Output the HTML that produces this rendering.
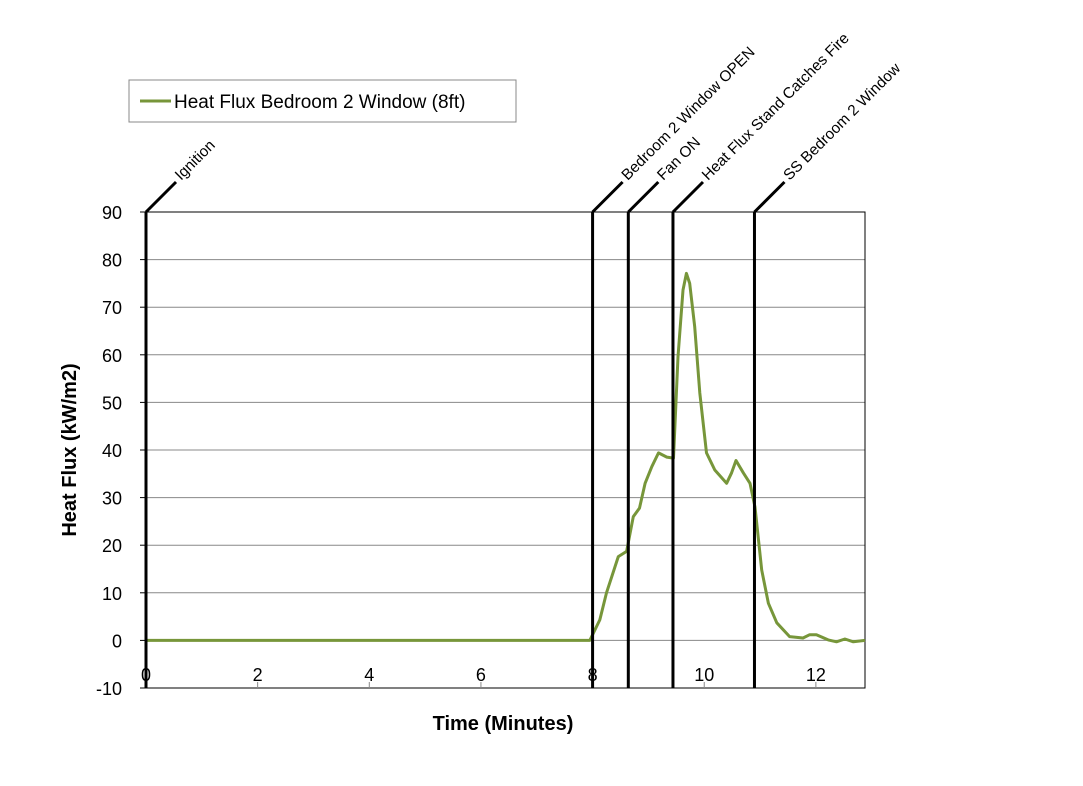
<!DOCTYPE html>
<html><head><meta charset="utf-8"><style>
body{margin:0;background:#fff}
svg{display:block;font-family:"Liberation Sans",sans-serif}
</style></head><body>
<svg id="chart" width="1083" height="786" viewBox="0 0 1083 786" xmlns="http://www.w3.org/2000/svg"></svg>
<script>
const times=[0,1,2,3,4,5,6,7,7.95,8.13,8.25,8.46,8.61,8.73,8.84,8.94,9.06,9.18,9.33,9.45,9.53,9.62,9.68,9.74,9.83,9.92,10.04,10.19,10.4,10.49,10.57,10.7,10.82,10.91,11.03,11.15,11.3,11.53,11.77,11.89,12.01,12.22,12.37,12.52,12.67,12.88];
const flux=[0,0,0,0,0,0,0,0,0,4.3,10,17.6,18.7,26,27.8,33,36.5,39.4,38.5,38.3,59.6,73.6,77.1,75,65.9,52,39.4,35.8,33,35.2,37.8,35.2,33,28,14.8,7.8,3.7,0.8,0.5,1.2,1.2,0.1,-0.3,0.3,-0.3,0];
const xTicks=[0,2,4,6,8,10,12];
const yTicks=[-10,0,10,20,30,40,50,60,70,80,90];
const eventTimes=[0,8,8.64,9.44,10.9];
const eventLabels=["Ignition","Bedroom  2 Window OPEN","Fan ON","Heat Flux Stand Catches Fire","SS Bedroom  2 Window"];
const X0=146,X1=865,Y0=212,Y1=688,XMAX=12.88;
const sx=t=>X0+(t/XMAX)*(X1-X0);
const sy=v=>Y1-(v+10)/100*(Y1-Y0);
const svg=document.getElementById('chart');
const NS='http://www.w3.org/2000/svg';
function mk(tag,attrs,parent){const e=document.createElementNS(NS,tag);for(const k in attrs)e.setAttribute(k,attrs[k]);(parent||svg).appendChild(e);return e;}
yTicks.forEach(v=>{
  const g=mk('line',{x1:X0,x2:X1,y1:sy(v),y2:sy(v),stroke:v===-10||v===90?'#000':'#888','stroke-width':1});
  
  
  const tk=mk('line',{x1:X0-6,x2:X0,y1:sy(v),y2:sy(v),stroke:'#000'});
  
  
  const t=mk('text',{x:122,y:sy(v)+7,'text-anchor':'end','font-size':18,fill:'#000'});
  t.textContent=v;
  
  
});
const frame=mk('rect',{x:X0,y:Y0,width:X1-X0,height:Y1-Y0,fill:'none',stroke:'#000','stroke-width':1});


xTicks.forEach(v=>{
  const tk=mk('line',{x1:sx(v),x2:sx(v),y1:Y1,y2:Y1-6,stroke:'#888'});
  
  
  const t=mk('text',{x:sx(v),y:681,'text-anchor':'middle','font-size':18,fill:'#000'});
  t.textContent=v;
  
  
});
const pts=times.map((t,i)=>sx(t).toFixed(1)+','+sy(flux[i]).toFixed(1)).join(' ');
const line=mk('polyline',{points:pts,fill:'none',stroke:'#77963a','stroke-width':3,'stroke-linejoin':'round'});


eventTimes.forEach((t,i)=>{
  const x=sx(t);
  const l=mk('line',{x1:x,x2:x,y1:Y0,y2:Y1,stroke:'#000','stroke-width':3});
  
  
  const d=mk('line',{x1:x,y1:Y0,x2:x+30,y2:Y0-30,stroke:'#000','stroke-width':3});
  
  
  const tx=mk('text',{x:x+35,y:Y0-31,'font-size':15.3,fill:'#000',transform:`rotate(-45 ${x+35} ${Y0-31})`});
  tx.textContent=eventLabels[i];
  
  
});
</script>
<script>
(function(){
const svg=document.getElementById('chart');const NS='http://www.w3.org/2000/svg';
function mk(tag,attrs){const e=document.createElementNS(NS,tag);for(const k in attrs)e.setAttribute(k,attrs[k]);svg.appendChild(e);return e;}
const xt=mk('text',{x:503,y:730,'text-anchor':'middle','font-size':20,'font-weight':'bold'});
xt.textContent='Time (Minutes)';


const yt=mk('text',{x:76,y:450,'text-anchor':'middle','font-size':20,'font-weight':'bold',transform:'rotate(-90 76 450)'});
yt.textContent='Heat Flux (kW/m2)';


const lg=mk('rect',{x:129,y:80,width:387,height:42,fill:'#fff',stroke:'#888'});


const ls=mk('line',{x1:140,x2:171,y1:101,y2:101,stroke:'#77963a','stroke-width':3});


const lt=mk('text',{x:174,y:108,'font-size':19});
lt.textContent='Heat Flux Bedroom 2 Window (8ft)';


})();
</script>
</body></html>
